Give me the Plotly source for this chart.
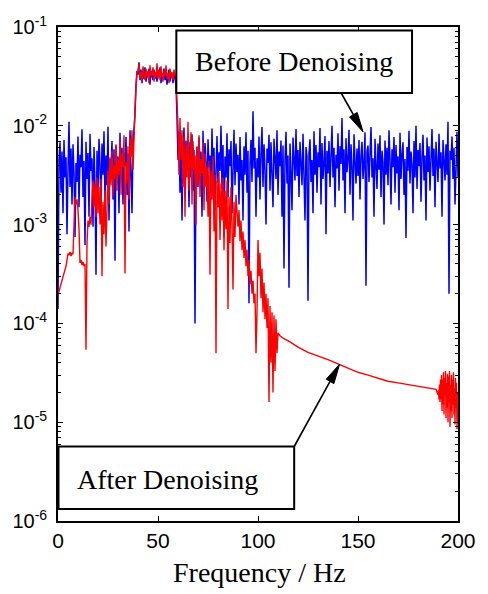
import numpy as np
import plotly.graph_objects as go

# ---------------- data ----------------
blue_freq = np.arange(0, 200.25, 0.5)          # Hz, 401 samples
blue_vals = [
    1.4e-4, 4.5e-3, 6.8e-3, 2.1e-3, 5.5e-3, 1.3e-3, 7.2e-3, 3.0e-3, 4.8e-3, 8.0e-4,
    3.6e-3, 1.1e-2, 2.4e-3, 5.9e-3, 1.6e-3, 6.5e-3, 3.3e-3, 7.5e-4, 4.2e-3, 2.7e-3,
    7.8e-3, 1.5e-3, 5.1e-3, 3.8e-3, 9.2e-3, 1.9e-3, 4.4e-3, 6.2e-4, 6.9e-3, 2.9e-3,
    5.3e-3, 1.2e-3, 8.3e-3, 3.5e-3, 4.7e-3, 9.5e-4, 6.1e-3, 2.6e-3, 3.1e-4, 5.6e-3,
    2.2e-3, 7.4e-3, 4.0e-3, 1.4e-3, 6.6e-3, 3.2e-3, 8.8e-3, 1.7e-3, 5.0e-3, 2.5e-3,
    9.8e-3, 1.1e-3, 4.6e-3, 3.7e-3, 7.0e-3, 1.8e-3, 5.8e-3, 4.3e-4, 6.3e-3, 3.4e-3,
    4.9e-3, 1.3e-3, 8.5e-3, 2.8e-3, 6.0e-3, 1.6e-3, 5.4e-3, 3.9e-3, 7.7e-3, 2.0e-3,
    5.2e-3, 8.5e-4, 9.0e-3, 2.3e-3, 1.3e-3, 6.5e-3, 9.0e-3, 1.3e-2, 2.6e-2, 3.6e-2,
    3.3e-2, 4.4e-2, 2.9e-2, 3.7e-2, 2.7e-2, 3.5e-2, 3.0e-2, 3.9e-2, 2.8e-2, 3.4e-2,
    3.1e-2, 3.8e-2, 2.6e-2, 3.6e-2, 3.2e-2, 2.9e-2, 3.7e-2, 3.0e-2, 3.5e-2, 2.8e-2,
    3.6e-2, 3.1e-2, 3.9e-2, 2.7e-2, 3.4e-2, 3.0e-2, 3.8e-2, 2.9e-2, 3.5e-2, 2.6e-2,
    3.3e-2, 3.7e-2, 2.8e-2, 3.4e-2, 3.2e-2, 2.7e-2, 3.5e-2, 3.0e-2, 2.6e-2, 1.2e-2,
    4.5e-3, 8.8e-3, 2.1e-3, 6.3e-3, 1.1e-3, 5.2e-3, 9.6e-3, 2.7e-3, 7.1e-3, 3.6e-3,
    4.8e-3, 1.5e-3, 6.9e-3, 3.0e-3, 8.2e-3, 2.2e-3, 5.7e-3, 1.0e-4, 4.0e-3, 6.1e-3,
    2.4e-3, 7.6e-3, 3.3e-3, 5.5e-3, 1.2e-3, 8.9e-3, 2.9e-3, 6.7e-3, 4.4e-3, 1.7e-3,
    7.3e-3, 3.8e-3, 5.0e-3, 2.0e-3, 9.4e-3, 3.1e-3, 6.0e-3, 1.4e-3, 4.6e-3, 7.9e-3,
    2.6e-3, 5.4e-3, 3.5e-3, 1.0e-2, 2.3e-3, 6.4e-3, 7.5e-4, 4.9e-3, 3.0e-3, 8.4e-3,
    1.9e-3, 5.8e-3, 3.9e-3, 7.0e-3, 1.3e-3, 4.3e-3, 9.1e-3, 2.5e-3, 6.6e-3, 3.4e-3,
    5.1e-3, 1.6e-3, 7.7e-3, 2.8e-3, 4.5e-3, 1.1e-3, 6.2e-3, 3.2e-3, 8.6e-3, 2.1e-3,
    5.6e-3, 1.6e-4, 4.1e-3, 7.2e-3, 2.7e-3, 1.4e-2, 3.7e-3, 6.0e-3, 1.2e-3, 4.7e-3,
    3.0e-3, 7.8e-3, 1.8e-3, 5.3e-3, 9.7e-3, 2.4e-3, 6.5e-3, 3.6e-3, 1.0e-3, 5.9e-3,
    4.2e-3, 8.1e-3, 2.2e-3, 6.8e-3, 3.3e-3, 1.5e-3, 7.4e-3, 4.8e-3, 2.9e-3, 9.0e-3,
    2.0e-3, 5.5e-3, 3.9e-3, 7.1e-3, 1.2e-3, 6.3e-3, 3.6e-4, 4.6e-3, 8.7e-3, 2.6e-3,
    5.0e-3, 2.3e-4, 6.6e-3, 3.4e-3, 1.4e-3, 7.6e-3, 4.4e-3, 2.8e-3, 9.3e-3, 3.1e-3,
    5.7e-3, 1.9e-3, 6.9e-3, 4.0e-3, 2.5e-3, 8.3e-3, 3.5e-3, 1.1e-3, 6.1e-3, 4.9e-3,
    1.7e-4, 5.2e-3, 7.3e-3, 2.7e-3, 4.5e-3, 1.3e-3, 8.8e-3, 3.2e-3, 6.4e-3, 2.1e-3,
    5.4e-3, 3.8e-3, 9.5e-3, 1.6e-3, 6.7e-3, 2.9e-3, 4.3e-3, 7.9e-3, 8.0e-4, 5.6e-3,
    3.3e-3, 7.0e-3, 2.4e-3, 4.8e-3, 1.0e-2, 3.0e-3, 6.0e-3, 1.5e-3, 5.1e-3, 3.7e-3,
    8.4e-3, 2.2e-3, 6.2e-3, 4.1e-3, 1.2e-2, 2.8e-3, 5.8e-3, 1.3e-3, 7.5e-3, 3.4e-3,
    4.6e-3, 9.1e-3, 2.0e-3, 6.5e-3, 3.9e-3, 1.1e-3, 8.2e-3, 4.4e-3, 2.6e-3, 5.9e-3,
    3.1e-3, 7.2e-3, 1.8e-3, 5.0e-3, 6.9e-3, 2.9e-3, 4.2e-3, 8.6e-3, 2.4e-4, 5.5e-3,
    6.3e-3, 2.7e-3, 5.3e-3, 9.7e-3, 3.0e-3, 4.7e-3, 1.2e-3, 7.4e-3, 4.0e-3, 2.3e-3,
    6.6e-3, 3.6e-3, 8.0e-3, 1.9e-3, 5.6e-3, 4.3e-3, 1.0e-3, 7.1e-3, 3.2e-3, 6.0e-3,
    2.5e-3, 9.0e-3, 4.5e-3, 1.6e-3, 5.8e-3, 3.8e-3, 7.7e-3, 2.1e-3, 6.4e-3, 3.3e-3,
    4.9e-3, 1.4e-3, 8.5e-3, 2.9e-3, 5.2e-3, 6.8e-3, 2.0e-3, 4.6e-3, 7.3e-4, 6.1e-3,
    3.5e-3, 8.9e-3, 2.6e-3, 5.5e-3, 4.1e-3, 1.3e-3, 7.0e-3, 3.0e-3, 1.0e-2, 2.3e-3,
    5.7e-3, 3.9e-3, 6.7e-3, 1.7e-3, 4.8e-3, 8.1e-3, 2.8e-3, 5.0e-3, 1.1e-3, 7.6e-3,
    3.4e-3, 6.2e-3, 2.2e-3, 4.4e-3, 9.3e-3, 3.1e-3, 5.9e-3, 1.5e-3, 6.9e-3, 4.2e-3,
    2.7e-3, 8.3e-3, 3.7e-3, 5.4e-3, 1.2e-3, 7.2e-3, 4.0e-3, 2.8e-3, 6.5e-3, 3.2e-3,
    1.1e-2, 2.0e-4, 5.6e-3, 4.5e-3, 7.8e-3, 2.9e-3, 6.0e-3, 1.6e-3, 3.6e-3, 8.7e-3,
    3.0e-3,
]

# red: noisy part 0-110 Hz (0.5 Hz), smooth part 110-190 Hz, noisy tail 190-200 Hz
red_freq_a = np.arange(0, 110.25, 0.5)
red_vals_a = [
    2.0e-4, 2.1e-4, 2.3e-4, 2.5e-4, 2.7e-4, 2.9e-4, 3.1e-4, 3.4e-4, 3.8e-4, 4.4e-4,
    5.1e-4, 4.9e-4, 5.3e-4, 4.8e-4, 5.2e-4, 5.0e-4, 1.3e-3, 1.9e-3, 1.6e-3, 1.8e-3,
    1.4e-3, 9.0e-4, 4.1e-4, 4.4e-4, 3.9e-4, 4.2e-4, 3.8e-4, 4.0e-4, 5.4e-5, 6.5e-4,
    1.1e-3, 9.5e-4, 1.2e-3, 1.0e-3, 1.9e-3, 2.8e-3, 1.5e-3, 2.6e-3, 1.2e-3, 3.0e-3,
    1.3e-3, 2.4e-3, 1.0e-3, 2.9e-3, 3.0e-4, 1.7e-3, 8.0e-4, 2.2e-3, 6.0e-4, 1.4e-3,
    3.5e-3, 1.6e-3, 4.8e-3, 2.5e-3, 5.6e-3, 1.9e-3, 4.0e-3, 2.9e-3, 6.5e-3, 2.2e-3,
    4.6e-3, 3.2e-3, 7.0e-3, 2.0e-3, 5.3e-3, 3.8e-3, 8.0e-3, 3.2e-4, 4.3e-3, 2.6e-3,
    6.2e-3, 1.8e-3, 7.5e-3, 4.8e-3, 9.0e-3, 3.6e-3, 1.1e-2, 1.5e-2, 2.4e-2, 3.4e-2,
    3.6e-2, 4.2e-2, 3.0e-2, 3.5e-2, 2.8e-2, 4.0e-2, 3.3e-2, 2.9e-2, 3.8e-2, 3.1e-2,
    3.6e-2, 2.7e-2, 4.1e-2, 3.2e-2, 3.4e-2, 3.9e-2, 2.8e-2, 3.5e-2, 3.1e-2, 4.3e-2,
    3.0e-2, 3.7e-2, 2.9e-2, 4.0e-2, 3.3e-2, 2.8e-2, 3.6e-2, 3.2e-2, 4.1e-2, 3.0e-2,
    3.4e-2, 2.7e-2, 3.8e-2, 3.1e-2, 3.5e-2, 2.9e-2, 3.7e-2, 3.3e-2, 2.8e-2, 1.8e-2,
    1.0e-2, 3.2e-3, 1.2e-2, 4.5e-3, 9.0e-3, 2.4e-3, 7.8e-3, 1.2e-3, 6.4e-3, 3.0e-3,
    1.1e-2, 2.2e-3, 5.8e-3, 8.6e-3, 1.6e-3, 7.0e-3, 3.6e-3, 5.0e-3, 1.0e-3, 6.2e-3,
    2.6e-3, 8.0e-3, 1.9e-3, 4.6e-3, 3.3e-3, 6.8e-3, 1.4e-3, 5.2e-3, 2.4e-3, 3.9e-3,
    1.2e-3, 4.4e-3, 3.1e-4, 3.5e-3, 1.8e-3, 4.9e-3, 8.5e-4, 3.2e-3, 5.0e-5, 2.8e-3,
    1.5e-3, 3.4e-3, 7.0e-4, 2.6e-3, 1.1e-3, 3.0e-3, 5.5e-4, 2.2e-3, 9.0e-4, 2.8e-3,
    1.4e-4, 1.9e-3, 6.5e-4, 2.4e-3, 1.0e-3, 2.2e-4, 1.7e-3, 7.5e-4, 2.0e-3, 1.2e-3,
    9.5e-4, 1.4e-3, 6.8e-4, 1.1e-3, 5.5e-4, 8.5e-4, 4.6e-4, 7.0e-4, 3.8e-4, 5.6e-4,
    3.0e-4, 4.4e-4, 2.5e-4, 3.4e-4, 2.0e-4, 2.7e-4, 1.6e-4, 2.0e-4, 5.0e-5, 1.3e-4,
    7.0e-4, 3.0e-4, 5.2e-4, 1.8e-4, 3.6e-4, 1.3e-4, 2.6e-4, 1.1e-4, 2.0e-4, 9.0e-5,
    1.8e-4, 1.6e-5, 1.5e-4, 4.0e-5, 1.3e-4, 2.0e-5, 1.2e-4, 3.3e-5, 1.1e-4, 5.0e-5,
    8.0e-5,
]
red_freq_b = [111, 113, 116, 120, 125, 130, 135, 140, 145, 150,
              155, 160, 165, 170, 175, 180, 185, 189, 190]
red_vals_b = [7.5e-5, 7.0e-5, 6.5e-5, 5.75e-5, 5.1e-5, 4.7e-5, 4.3e-5, 3.9e-5, 3.55e-5, 3.2e-5,
              3.0e-5, 2.8e-5, 2.6e-5, 2.5e-5, 2.4e-5, 2.3e-5, 2.2e-5, 2.15e-5, 1.9e-5]
red_freq_c = np.arange(190.25, 200.01, 0.25)
red_vals_c = [
    2.1e-5, 1.7e-5, 2.4e-5, 1.6e-5, 2.7e-5, 1.7e-5, 3.0e-5, 1.3e-5, 2.7e-5, 1.5e-5,
    3.2e-5, 1.2e-5, 2.8e-5, 1.9e-5, 3.3e-5, 1.1e-5, 2.5e-5, 1.4e-5, 3.1e-5, 1.0e-5,
    2.9e-5, 1.6e-5, 3.3e-5, 9.0e-6, 2.4e-5, 1.3e-5, 3.0e-5, 1.1e-5, 2.7e-5, 1.5e-5,
    3.2e-5, 1.2e-5, 2.2e-5, 9.5e-6, 2.8e-5, 1.4e-5, 2.5e-5, 8.5e-6, 2.0e-5, 1.0e-5,
]

x_ticks = [0, 50, 100, 150, 200]
y_ticks = [1e-6, 1e-5, 1e-4, 1e-3, 1e-2, 1e-1]
y_ticktext = ["10<sup>-6</sup>", "10<sup>-5</sup>", "10<sup>-4</sup>",
              "10<sup>-3</sup>", "10<sup>-2</sup>", "10<sup>-1</sup>"]
label_before = "Before Denoising"
label_after = "After Denoising"
x_title = "Frequency / Hz"

red_freq = np.concatenate([red_freq_a, red_freq_b, red_freq_c])
red_vals = list(red_vals_a) + list(red_vals_b) + list(red_vals_c)

# ---------------- figure ----------------
W, H = 488, 594
ML, MR, MT, MB = 58, 21, 27, 73
L, R, T, B = ML, W - MR, MT, H - MB


def px(x):
    return (x - L) / (R - L)


def py(y):
    return (B - y) / (B - T)


fig = go.Figure()
fig.add_trace(go.Scatter(x=blue_freq, y=blue_vals, mode="lines",
                         line=dict(color="#0000ff", width=1.5), showlegend=False))
fig.add_trace(go.Scatter(x=red_freq, y=red_vals, mode="lines",
                         line=dict(color="#ff0000", width=1.4), showlegend=False))

minor_vals = [m * 10.0 ** e for e in range(-6, -1) for m in range(2, 10)]

fig.update_layout(
    width=W, height=H,
    margin=dict(l=ML, r=MR, t=MT, b=MB),
    plot_bgcolor="white", paper_bgcolor="white",
    showlegend=False,
)
fig.update_xaxes(
    range=[0, 200], tickmode="array", tickvals=x_ticks,
    ticks="inside", ticklen=5, tickwidth=1, tickcolor="black",
    showline=True, linewidth=1.8, linecolor="black", mirror="ticks",
    showgrid=False, zeroline=False,
    tickfont=dict(family="Liberation Sans, Arial", size=21, color="black"),
)
fig.update_yaxes(
    type="log", range=[-6, -1], tickmode="array", tickvals=y_ticks, ticktext=y_ticktext,
    ticks="inside", ticklen=5, tickwidth=1, tickcolor="black",
    showline=True, linewidth=1.8, linecolor="black", mirror="ticks",
    showgrid=False, zeroline=False,
    tickfont=dict(family="Liberation Sans, Arial", size=20, color="black"),
    minor=dict(tickmode="array", tickvals=minor_vals, ticks="inside", ticklen=3,
               tickcolor="black", showgrid=False),
    ticklabelstandoff=5,
)

# boxes
fig.add_shape(type="rect", xref="paper", yref="paper",
              x0=px(179), x1=px(420), y0=py(93), y1=py(30.5),
              line=dict(color="black", width=2), fillcolor="white", layer="above")
fig.add_shape(type="rect", xref="paper", yref="paper",
              x0=px(58.5), x1=px(299.5), y0=py(509), y1=py(446.5),
              line=dict(color="black", width=2), fillcolor="white", layer="above")

serif = "Liberation Serif, Times New Roman, serif"
fig.add_annotation(text=label_before, xref="paper", yref="paper",
                   x=px(299), y=py(62), xanchor="center", yanchor="middle",
                   showarrow=False, font=dict(family=serif, size=28, color="black"))
fig.add_annotation(text=label_after, xref="paper", yref="paper",
                   x=px(170), y=py(479), xanchor="center", yanchor="middle",
                   showarrow=False, font=dict(family=serif, size=28, color="black"))
fig.add_annotation(text=x_title, xref="paper", yref="paper",
                   x=px(264.5), y=py(573), xanchor="center", yanchor="middle",
                   showarrow=False, font=dict(family=serif, size=28, color="black"))


def arrow(x0, y0, x1, y1, head_len=20, half_w=4.5):
    dx, dy = x1 - x0, y1 - y0
    n = (dx * dx + dy * dy) ** 0.5
    ux, uy = dx / n, dy / n
    bx, by = x1 - ux * head_len, y1 - uy * head_len
    fig.add_shape(type="line", xref="paper", yref="paper",
                  x0=px(x0), y0=py(y0), x1=px(bx), y1=py(by),
                  line=dict(color="black", width=1.6), layer="above")
    pts = [(x1, y1), (bx - uy * half_w, by + ux * half_w), (bx + uy * half_w, by - ux * half_w)]
    path = "M " + " L ".join(f"{px(a):.5f},{py(b):.5f}" for a, b in pts) + " Z"
    fig.add_shape(type="path", xref="paper", yref="paper", path=path,
                  fillcolor="black", line=dict(color="black", width=1), layer="above")


arrow(347.5, 93, 370, 132)
arrow(299.5, 446.5, 346, 364)

fig.write_html("out.html")
